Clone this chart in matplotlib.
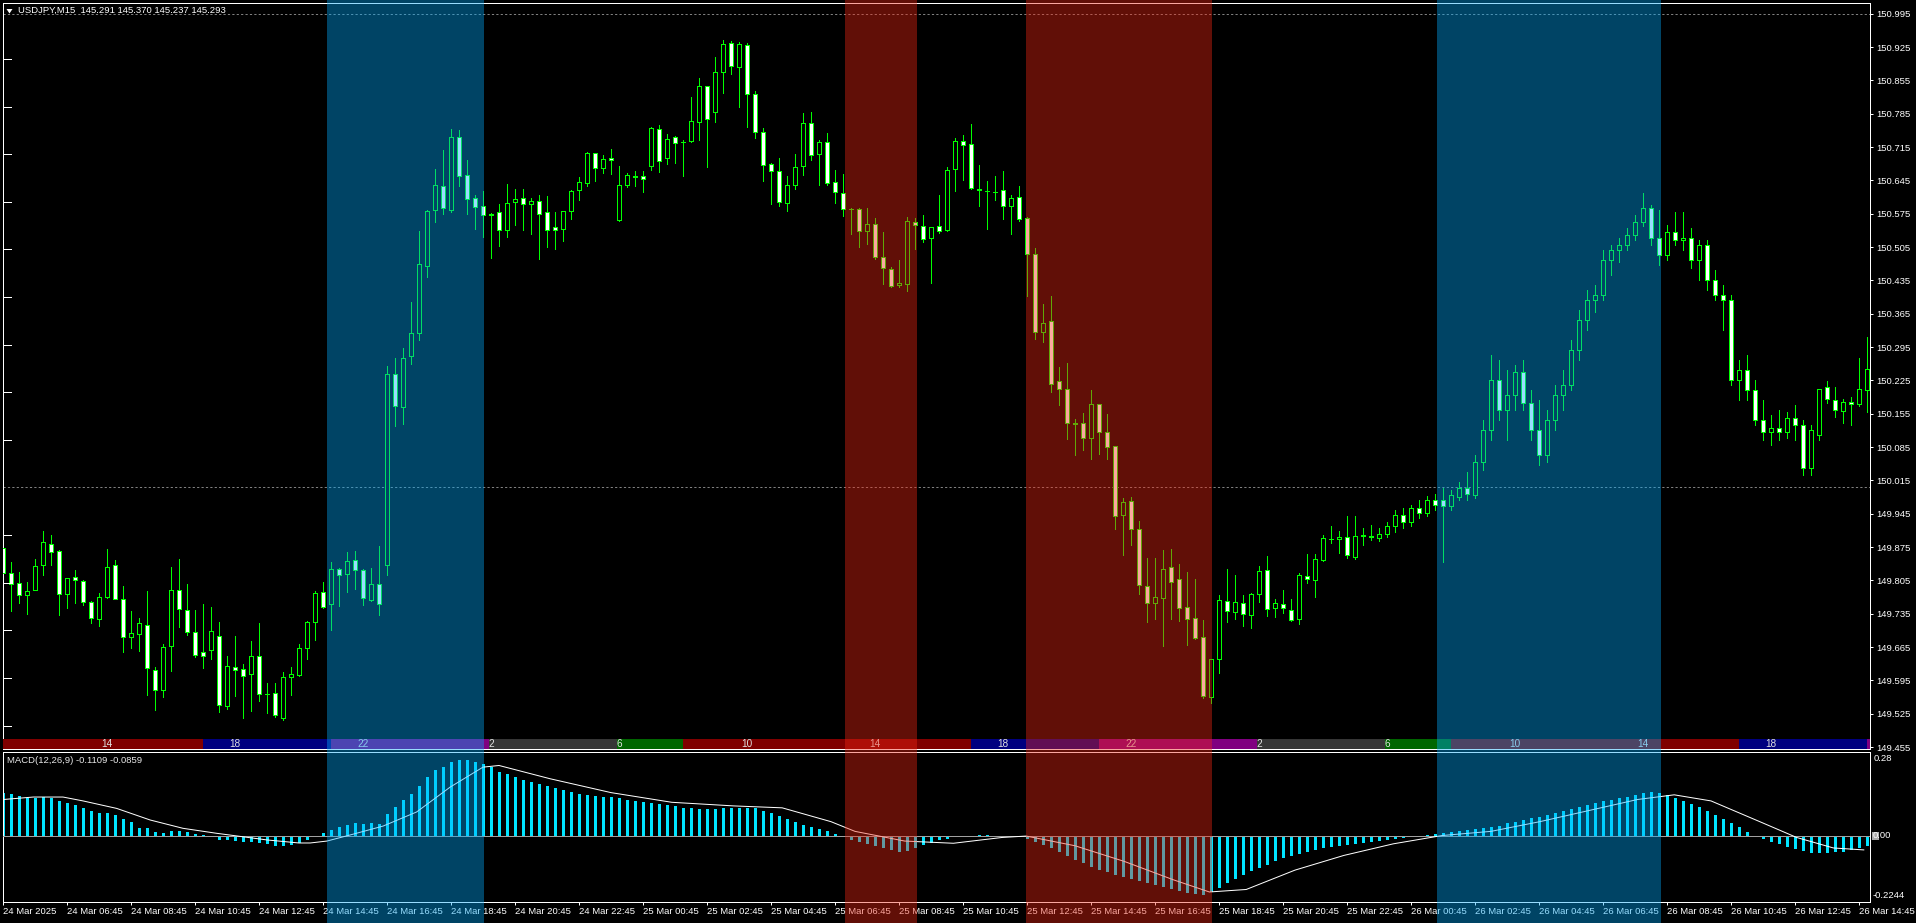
import matplotlib
matplotlib.use("Agg")
import matplotlib.pyplot as plt
import matplotlib.transforms as mtrans
from matplotlib.patches import Rectangle, Polygon
from matplotlib.collections import LineCollection
import numpy as np
import pandas as pd

# ---- chart values (USDJPY M15, 24 Mar 04:45 .. 26 Mar 15:00) ----
opens = [
    149.873, 149.820, 149.799, 149.774, 149.785, 149.837, 149.881, 149.867, 149.776, 149.812,
    149.804, 149.760, 149.724, 149.770, 149.837, 149.766, 149.686, 149.692, 149.711, 149.617,
    149.575, 149.667, 149.785, 149.743, 149.697, 149.655, 149.659, 149.688, 149.541, 149.623,
    149.619, 149.608, 149.646, 149.566, 149.568, 149.516, 149.602, 149.606, 149.663, 149.718,
    149.781, 149.755, 149.829, 149.818, 149.848, 149.827, 149.764, 149.797, 149.837, 150.238,
    150.169, 150.276, 150.324, 150.465, 150.583, 150.633, 150.583, 150.736, 150.656, 150.608,
    150.591, 150.574, 150.579, 150.541, 150.600, 150.608, 150.595, 150.602, 150.579, 150.547,
    150.543, 150.581, 150.625, 150.639, 150.702, 150.671, 150.692, 150.562, 150.635, 150.654,
    150.654, 150.675, 150.753, 150.692, 150.736, 150.726, 150.728, 150.768, 150.843, 150.789,
    150.873, 150.933, 150.883, 150.929, 150.826, 150.746, 150.679, 150.665, 150.597, 150.635,
    150.675, 150.765, 150.700, 150.726, 150.642, 150.618, 150.585, 150.585, 150.539, 150.553,
    150.484, 150.459, 150.425, 150.427, 150.558, 150.549, 150.524, 150.549, 150.541, 150.669,
    150.728, 150.721, 150.627, 150.623, 150.621, 150.625, 150.591, 150.610, 150.566, 150.490,
    150.327, 150.350, 150.224, 150.207, 150.135, 150.135, 150.104, 150.175, 150.117, 150.087,
    149.942, 149.972, 149.913, 149.793, 149.757, 149.768, 149.833, 149.808, 149.749, 149.726,
    149.686, 149.560, 149.640, 149.762, 149.739, 149.757, 149.732, 149.776, 149.827, 149.747,
    149.755, 149.743, 149.724, 149.814, 149.806, 149.848, 149.892, 149.892, 149.896, 149.854,
    149.898, 149.898, 149.894, 149.902, 149.919, 149.942, 149.927, 149.957, 149.946, 149.974,
    149.974, 149.961, 149.980, 149.999, 149.984, 150.054, 150.121, 150.226, 150.163, 150.194,
    150.243, 150.177, 150.121, 150.068, 150.142, 150.194, 150.215, 150.289, 150.352, 150.394,
    150.404, 150.478, 150.499, 150.509, 150.530, 150.558, 150.587, 150.524, 150.488, 150.537,
    150.520, 150.524, 150.478, 150.509, 150.436, 150.404, 150.394, 150.226, 150.247, 150.205,
    150.142, 150.117, 150.125, 150.117, 150.146, 150.131, 150.041, 150.110, 150.211, 150.184,
    150.161, 150.180, 150.175, 150.205,
]
highs = [
    149.955, 149.843, 149.822, 149.801, 149.850, 149.909, 149.900, 149.869, 149.810, 149.827,
    149.806, 149.762, 149.778, 149.871, 149.848, 149.793, 149.741, 149.726, 149.783, 149.623,
    149.671, 149.833, 149.850, 149.797, 149.743, 149.755, 149.749, 149.718, 149.646, 149.688,
    149.629, 149.678, 149.715, 149.589, 149.589, 149.612, 149.623, 149.671, 149.720, 149.783,
    149.801, 149.843, 149.831, 149.865, 149.867, 149.828, 149.831, 149.877, 150.255, 150.272,
    150.293, 150.390, 150.539, 150.583, 150.669, 150.709, 150.753, 150.751, 150.688, 150.614,
    150.623, 150.576, 150.595, 150.637, 150.627, 150.627, 150.608, 150.614, 150.612, 150.579,
    150.581, 150.625, 150.652, 150.705, 150.703, 150.698, 150.711, 150.675, 150.660, 150.665,
    150.665, 150.757, 150.761, 150.742, 150.738, 150.730, 150.820, 150.860, 150.844, 150.904,
    150.940, 150.938, 150.936, 150.933, 150.833, 150.755, 150.681, 150.692, 150.654, 150.700,
    150.786, 150.789, 150.730, 150.744, 150.667, 150.658, 150.587, 150.587, 150.587, 150.566,
    150.537, 150.463, 150.478, 150.568, 150.566, 150.572, 150.547, 150.614, 150.673, 150.734,
    150.740, 150.763, 150.677, 150.644, 150.654, 150.665, 150.614, 150.633, 150.567, 150.503,
    150.385, 150.402, 150.253, 150.261, 150.144, 150.156, 150.205, 150.176, 150.154, 150.088,
    149.978, 149.980, 149.930, 149.852, 149.852, 149.869, 149.871, 149.839, 149.822, 149.808,
    149.722, 149.638, 149.774, 149.829, 149.816, 149.774, 149.778, 149.835, 149.856, 149.766,
    149.785, 149.766, 149.820, 149.860, 149.860, 149.900, 149.919, 149.909, 149.940, 149.940,
    149.915, 149.921, 149.915, 149.927, 149.953, 149.957, 149.963, 149.974, 149.982, 149.986,
    149.999, 149.995, 150.012, 150.032, 150.068, 150.142, 150.278, 150.268, 150.247, 150.257,
    150.268, 150.205, 150.184, 150.163, 150.215, 150.247, 150.310, 150.373, 150.415, 150.425,
    150.499, 150.509, 150.524, 150.545, 150.572, 150.618, 150.593, 150.583, 150.551, 150.579,
    150.579, 150.545, 150.520, 150.520, 150.457, 150.425, 150.404, 150.268, 150.278, 150.226,
    150.184, 150.152, 150.163, 150.158, 150.173, 150.142, 150.131, 150.142, 150.224, 150.211,
    150.186, 150.190, 150.272, 150.316,
]
lows = [
    149.816, 149.741, 149.757, 149.734, 149.785, 149.816, 149.837, 149.732, 149.747, 149.757,
    149.753, 149.715, 149.709, 149.768, 149.766, 149.655, 149.663, 149.657, 149.564, 149.533,
    149.560, 149.615, 149.707, 149.690, 149.644, 149.621, 149.640, 149.529, 149.535, 149.562,
    149.516, 149.531, 149.552, 149.526, 149.518, 149.512, 149.564, 149.604, 149.640, 149.680,
    149.747, 149.701, 149.751, 149.781, 149.787, 149.753, 149.762, 149.732, 149.816, 150.129,
    150.133, 150.259, 150.310, 150.442, 150.558, 150.574, 150.579, 150.633, 150.574, 150.543,
    150.526, 150.482, 150.507, 150.526, 150.551, 150.541, 150.532, 150.480, 150.505, 150.501,
    150.518, 150.564, 150.604, 150.633, 150.644, 150.660, 150.658, 150.560, 150.631, 150.633,
    150.621, 150.667, 150.663, 150.679, 150.681, 150.654, 150.725, 150.730, 150.673, 150.768,
    150.828, 150.868, 150.799, 150.757, 150.734, 150.644, 150.595, 150.591, 150.581, 150.627,
    150.656, 150.688, 150.635, 150.635, 150.597, 150.570, 150.532, 150.505, 150.511, 150.480,
    150.427, 150.421, 150.421, 150.413, 150.501, 150.516, 150.429, 150.534, 150.539, 150.623,
    150.646, 150.627, 150.591, 150.543, 150.604, 150.564, 150.532, 150.560, 150.402, 150.312,
    150.306, 150.201, 150.173, 150.102, 150.068, 150.079, 150.060, 150.070, 150.060, 149.913,
    149.858, 149.879, 149.776, 149.718, 149.724, 149.667, 149.724, 149.720, 149.669, 149.682,
    149.558, 149.547, 149.610, 149.718, 149.724, 149.709, 149.705, 149.760, 149.730, 149.728,
    149.736, 149.720, 149.713, 149.799, 149.770, 149.846, 149.883, 149.862, 149.852, 149.850,
    149.879, 149.890, 149.888, 149.896, 149.906, 149.915, 149.919, 149.936, 149.940, 149.953,
    149.843, 149.953, 149.974, 149.974, 149.978, 150.037, 150.100, 150.142, 150.100, 150.163,
    150.163, 150.100, 150.047, 150.054, 150.121, 150.163, 150.205, 150.268, 150.331, 150.369,
    150.394, 150.446, 150.474, 150.499, 150.520, 150.549, 150.509, 150.467, 150.478, 150.509,
    150.499, 150.461, 150.436, 150.415, 150.394, 150.331, 150.215, 150.184, 150.184, 150.131,
    150.100, 150.089, 150.100, 150.104, 150.100, 150.026, 150.026, 150.100, 150.177, 150.148,
    150.135, 150.131, 150.171, 150.158,
]
closes = [
    149.820, 149.797, 149.774, 149.783, 149.835, 149.886, 149.865, 149.776, 149.810, 149.806,
    149.760, 149.726, 149.770, 149.833, 149.766, 149.686, 149.694, 149.715, 149.621, 149.575,
    149.665, 149.785, 149.745, 149.697, 149.648, 149.646, 149.699, 149.543, 149.625, 149.617,
    149.604, 149.646, 149.566, 149.567, 149.522, 149.602, 149.608, 149.663, 149.718, 149.778,
    149.749, 149.829, 149.816, 149.846, 149.827, 149.768, 149.797, 149.755, 150.238, 150.171,
    150.272, 150.324, 150.469, 150.581, 150.635, 150.587, 150.736, 150.654, 150.606, 150.589,
    150.572, 150.573, 150.541, 150.597, 150.606, 150.595, 150.602, 150.574, 150.541, 150.541,
    150.581, 150.623, 150.642, 150.702, 150.671, 150.690, 150.688, 150.635, 150.656, 150.653,
    150.648, 150.755, 150.686, 150.732, 150.723, 150.725, 150.770, 150.843, 150.774, 150.873,
    150.931, 150.885, 150.931, 150.826, 150.746, 150.677, 150.665, 150.600, 150.635, 150.673,
    150.765, 150.698, 150.726, 150.639, 150.621, 150.585, 150.584, 150.539, 150.553, 150.484,
    150.461, 150.423, 150.429, 150.560, 150.551, 150.522, 150.547, 150.539, 150.667, 150.728,
    150.719, 150.629, 150.625, 150.622, 150.620, 150.591, 150.608, 150.564, 150.490, 150.327,
    150.345, 150.217, 150.207, 150.135, 150.134, 150.104, 150.175, 150.117, 150.085, 149.940,
    149.970, 149.913, 149.795, 149.757, 149.770, 149.829, 149.801, 149.747, 149.724, 149.684,
    149.562, 149.640, 149.764, 149.741, 149.760, 149.734, 149.776, 149.825, 149.745, 149.757,
    149.747, 149.722, 149.816, 149.808, 149.850, 149.894, 149.891, 149.896, 149.858, 149.898,
    149.900, 149.896, 149.902, 149.919, 149.942, 149.927, 149.957, 149.946, 149.974, 149.963,
    149.961, 149.984, 149.999, 149.986, 150.054, 150.121, 150.226, 150.163, 150.194, 150.243,
    150.177, 150.121, 150.068, 150.142, 150.194, 150.215, 150.289, 150.352, 150.394, 150.404,
    150.478, 150.499, 150.509, 150.530, 150.558, 150.587, 150.524, 150.488, 150.537, 150.520,
    150.524, 150.478, 150.509, 150.436, 150.404, 150.394, 150.226, 150.247, 150.205, 150.142,
    150.117, 150.125, 150.117, 150.146, 150.131, 150.041, 150.121, 150.207, 150.186, 150.163,
    150.180, 150.175, 150.207, 150.249,
]

# MACD(12,26,9) main value per bar (drawn as histogram)
macd_hist = [
    .152, .149, .142, .136, .136, .139, .136, .124, .117, .109,
    .098, .088, .081, .081, .074, .059, .048, .026, .026, .013,
    .009, .016, .016, .013, .005, .001, -.001, -.016, -.016, -.020,
    -.023, -.023, -.027, -.031, -.038, -.038, -.034, -.027, -.016, -.005,
    .009, .020, .030, .038, .045, .041, .045, .041, .077, .102,
    .127, .149, .178, .210, .235, .246, .267, .274, .271, .264,
    .257, .247, .231, .222, .212, .202, .193, .185, .178, .172,
    .165, .158, .150, .146, .143, .140, .138, .134, .129, .125,
    .121, .117, .113, .109, .105, .100, .098, .095, .094, .096,
    .099, .100, .101, .101, .099, .090, .080, .070, .060, .048,
    .038, .030, .022, .015, .005, -.006, -.016, -.024, -.032, -.038,
    -.046, -.052, -.058, -.056, -.046, -.036, -.026, -.018, -.012, -.007,
    -.003, .000, .001, .001, .000, -.001, -.003, -.006, -.012, -.022,
    -.035, -.045, -.060, -.075, -.087, -.100, -.113, -.125, -.133, -.142,
    -.150, -.157, -.163, -.170, -.178, -.187, -.195, -.201, -.207, -.212,
    -.215, -.205, -.190, -.170, -.157, -.143, -.130, -.118, -.105, -.092,
    -.080, -.073, -.066, -.060, -.053, -.046, -.040, -.037, -.033, -.030,
    -.027, -.023, -.020, -.017, -.013, -.010, -.006, -.002, .003, .007,
    .010, .013, .017, .020, .023, .026, .029, .036, .044, .050,
    .056, .062, .068, .075, .083, .090, .097, .104, .110, .117,
    .124, .130, .135, .140, .147, .152, .156, .152, .145, .137,
    .125, .113, .103, .090, .075, .060, .045, .030, .012, .000,
    -.012, -.022, -.032, -.042, -.050, -.057, -.063, -.064, -.062, -.060,
    -.058, -.053, -.045, -.039,
]
# signal line, sampled (bar position, value)
signal_bar = [0, 3.8, 7.5, 10, 14.2, 18.4, 22.5, 26.7, 28.8, 33, 37, 38.4, 40.5, 43.4, 47.5,
              51.7, 55.9, 60, 62, 68.4, 76, 83.6, 91.3, 97.4, 103.5, 106.5, 112.7, 118.8,
              124.9, 127.9, 134, 140.2, 146.3, 150.8, 155.4, 161.5, 167.6, 173.8, 179.9,
              186, 192.1, 198.2, 204.3, 208.9, 213.5, 219.6, 224.2, 228.8, 232.6]
signal_val = [.130, .139, .139, .125, .098, .056, .026, .008, .000, -.016, -.027, -.027, -.020,
              .002, .034, .085, .175, .247, .253, .205, .155, .120, .107, .100, .050, .015,
              -.020, -.028, -.007, -.002, -.037, -.094, -.160, -.204, -.195, -.125, -.072,
              -.030, .000, .015, .050, .090, .130, .147, .125, .050, -.007, -.045, -.052]

# session strip along the bottom of the price window
session_edges = [-1, 25, 41, 60.75, 76.75, 85, 121, 137, 156.75, 172.75, 181, 217, 233, 234]
session_colors = ["#800000", "#000080", "#800080", "#363636", "#006600",
                  "#800000", "#000080", "#800080", "#363636", "#006600",
                  "#800000", "#000080", "#800080"]
hour_label_bars = [13, 29, 45, 61, 77, 93, 109, 125, 141, 157, 173, 189, 205, 221]
hour_labels = ["14", "18", "22", "2", "6", "10", "14", "18", "22", "2", "6", "10", "14", "18"]

# highlighted time boxes (bar positions)
box_start = [40.45, 105.2, 127.85, 179.2]
box_end = [60.1, 114.25, 151.1, 207.25]
box_color = ["#00acff", "#f52612", "#f52612", "#00acff"]

price_ticks = [149.455, 149.525, 149.595, 149.665, 149.735, 149.805, 149.875, 149.945,
               150.015, 150.085, 150.155, 150.225, 150.295, 150.365, 150.435, 150.505,
               150.575, 150.645, 150.715, 150.785, 150.855, 150.925, 150.995]
round_levels = [149.5, 149.6, 149.7, 149.8, 149.9, 150.1, 150.2, 150.3, 150.4,
                150.5, 150.6, 150.7, 150.8, 150.9]
dashed_levels = [150.995, 150.000]

W, H = 1916, 923
LIME = "#00ff00"
CYAN = "#00e4ff"
FS = 6.8
LW = 0.72  # one pixel

plt.rcParams["font.family"] = ["Liberation Sans", "DejaVu Sans"]


def px_box(x0, y0, x1, y1):
    return [x0 / W, 1 - y1 / H, (x1 - x0) / W, (y1 - y0) / H]


fig = plt.figure(figsize=(W / 100, H / 100), dpi=100, facecolor="black")
ax = fig.add_axes(px_box(2.5, 2.5, 1870, 749))
axm = fig.add_axes(px_box(2.5, 752, 1870, 902))

n = len(opens)
bars = np.arange(n)
x_lo, x_hi = (2.5 - 3) / 8, (1870 - 3) / 8

for a in (ax, axm):
    a.set_facecolor("black")
    a.set_xlim(x_lo, x_hi)
    for s in a.spines.values():
        s.set_color("white")
        s.set_linewidth(LW)

# ---- price window ----
ax.set_ylim(149.4508, 151.0185)
for lvl in dashed_levels:
    ax.axhline(lvl, color="#808080", lw=LW, dashes=(2.2, 2.2), zorder=1)
ax.hlines(round_levels, x_lo, 1.0, colors="white", lw=LW, antialiased=False, zorder=4)

wicks = [[(i, l), (i, h)] for i, l, h in zip(bars, lows, highs)]
ax.add_collection(LineCollection(wicks, colors=LIME, linewidths=LW,
                                 antialiaseds=False, zorder=2))
for i, o, c in zip(bars, opens, closes):
    lo, hi = min(o, c), max(o, c)
    face = "black" if c > o else "white"
    ax.add_patch(Rectangle((i - 0.25, lo), 0.5, hi - lo, facecolor=face, edgecolor=LIME,
                           linewidth=LW, antialiased=False, zorder=3))

strip_top = 10 / 746.5
tx = ax.get_xaxis_transform()
for x0, x1, col in zip(session_edges[:-1], session_edges[1:], session_colors):
    ax.add_patch(Rectangle((x0, 0), x1 - x0, strip_top, transform=tx, facecolor=col,
                           edgecolor="none", antialiased=False, zorder=5))
for b, lab in zip(hour_label_bars, hour_labels):
    ax.text(b, strip_top / 2, lab, transform=tx, color="#e0e0e0", fontsize=FS + 0.4,
            ha="center", va="center", zorder=6)

ax.yaxis.tick_right()
ax.set_yticks(price_ticks)
ax.set_yticklabels([f"{v:.3f}" for v in price_ticks])
ax.tick_params(axis="y", colors="white", length=2.2, width=LW, pad=2.5, labelsize=FS)
ax.set_xticks([])

# ---- MACD window ----
axm.set_ylim(-0.2402, 0.3017)
axm.bar(bars, macd_hist, width=0.375, color=CYAN, linewidth=0, antialiased=False, zorder=2)
axm.axhline(0, color="#a0a0a0", lw=LW, zorder=3)
axm.plot(signal_bar, signal_val, color="white", lw=LW, zorder=4)
axm.set_yticks([])

times = pd.date_range("2025-03-24 04:45", periods=n, freq="15min")
tick_bars = list(range(0, n, 8))
tick_labels = ["24 Mar 2025"] + [times[b].strftime("%d Mar %H:%M") for b in tick_bars[1:]]
axm.set_xticks(tick_bars)
axm.set_xticklabels(tick_labels)
axm.tick_params(axis="x", colors="white", length=2.2, width=LW, pad=1.2, labelsize=FS)
for lab in axm.get_xticklabels():
    lab.set_horizontalalignment("left")

# ---- texts ----
fig.text(18 / W, 1 - 10.8 / H, "USDJPY,M15  145.291 145.370 145.237 145.293",
         color="white", fontsize=FS, va="center", ha="left")
fig.add_artist(Polygon([(6.5 / W, 1 - 9 / H), (12.5 / W, 1 - 9 / H), (9.5 / W, 1 - 13.5 / H)],
                       closed=True, transform=fig.transFigure, facecolor="white",
                       edgecolor="none"))
fig.text(7 / W, 1 - 760.5 / H, "MACD(12,26,9) -0.1109 -0.0859", color="#e8e8e8",
         fontsize=FS, va="center", ha="left")
fig.text(1874 / W, 1 - 758.5 / H, "0.28", color="white", fontsize=FS, va="center")
fig.add_artist(Rectangle((1872 / W, 1 - 840 / H), 6.5 / W, 8 / H, transform=fig.transFigure,
                         facecolor="#a8a8a8", edgecolor="none"))
fig.text(1873 / W, 1 - 836 / H, "0.00", color="white", fontsize=FS, va="center")
fig.text(1873 / W, 1 - 895 / H, "-0.2244", color="white", fontsize=FS, va="center")

# ---- translucent time boxes over everything ----
bt = mtrans.blended_transform_factory(ax.transData, fig.transFigure)
for x0, x1, col in zip(box_start, box_end, box_color):
    fig.add_artist(Rectangle((x0, 0), x1 - x0, 1, transform=bt, facecolor=col,
                             edgecolor="none", alpha=0.4, zorder=50))

fig.savefig("out.png", dpi=100, facecolor="black")
